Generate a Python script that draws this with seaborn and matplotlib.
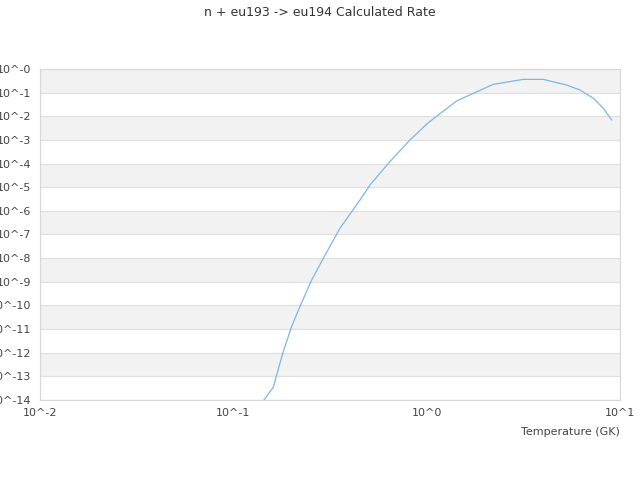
import numpy as np
import pandas as pd
import matplotlib
matplotlib.use('Agg')
import matplotlib.pyplot as plt
import seaborn as sns

# values (temperature in GK, rate)
temperature = [0.14, 0.161, 0.18, 0.20, 0.221, 0.254, 0.292, 0.356, 0.452, 0.509, 0.645,
               0.82, 1.02, 1.43, 2.21, 3.16, 4.01, 5.30, 6.21, 7.28, 8.20, 9.06]
log_rate = [-14.14, -13.46, -12.03, -10.90, -10.05, -8.93, -8.01, -6.74, -5.54, -4.91, -3.92,
            -3.00, -2.27, -1.35, -0.65, -0.44, -0.44, -0.68, -0.89, -1.24, -1.66, -2.16]

x_ticks = [0.01, 0.1, 1, 10]
x_labels = ['10^-2', '10^-1', '10^0', '10^1']
y_exps = list(range(0, -15, -1))
y_labels = ['10^-%d' % abs(e) for e in y_exps]

title = 'n + eu193 -> eu194 Calculated Rate'
xlabel = 'Temperature (GK)'

df = pd.DataFrame({'T': temperature, 'rate': [10.0 ** v for v in log_rate]})

sns.set_style('white')
plt.rcParams['font.family'] = ['DejaVu Sans']

fig = plt.figure(figsize=(6.4, 4.8), dpi=100)
ax = fig.add_axes([0.0625, 0.1667, 0.90625, 0.6896])

ax.set_xscale('log')
ax.set_yscale('log')

# alternating horizontal bands
for i, e in enumerate(y_exps[:-1]):
    if i % 2 == 0:
        ax.axhspan(10.0 ** (e - 1), 10.0 ** e, color='#f2f2f2', lw=0, zorder=0)
for e in y_exps:
    ax.axhline(10.0 ** e, color='#e0e0e0', lw=0.9, zorder=1)

sns.lineplot(data=df, x='T', y='rate', ax=ax, color='#7cb5ec', lw=0.9, zorder=3)

ax.set_xlim(0.01, 10)
ax.set_ylim(1e-14, 1)
ax.set_xticks(x_ticks)
ax.set_xticklabels(x_labels)
ax.set_yticks([10.0 ** e for e in y_exps])
ax.set_yticklabels(y_labels)
ax.minorticks_off()
ax.tick_params(axis='x', length=0, pad=6, labelsize=8, labelcolor='#444444')
ax.tick_params(axis='y', length=0, pad=6.5, labelsize=8, labelcolor='#444444')

for s in ax.spines.values():
    s.set_color('#d8d8d8')
    s.set_linewidth(0.9)

ax.set_xlabel(xlabel, loc='right', fontsize=8, color='#444444', labelpad=6)
ax.set_ylabel('')
fig.text(0.5, 0.975, title, ha='center', va='center', fontsize=9, color='#333333')

fig.savefig('out.png', dpi=100)
